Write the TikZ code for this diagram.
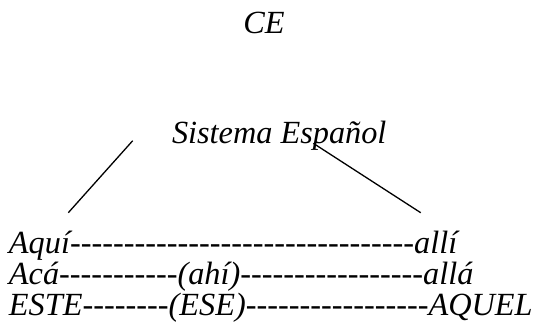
\documentclass[tikz,border=0pt]{standalone}
\usepackage{fontspec}
\newfontfamily\tnr{Liberation Serif}
\begin{document}
\begin{tikzpicture}[x=1pt,y=-1pt,
  txt/.style={inner sep=0pt,outer sep=0pt,font=\tnr\fontsize{32.3}{31}\selectfont\itshape},
  branch/.style={line width=1.3pt,line cap=butt}]
\useasboundingbox (0,0) rectangle (534,330);
\node[txt,anchor=base] (ce) at (264,33) {CE};
\node[txt,anchor=base west] (sis) at (172,143) {Sistema Español};
\node[txt,anchor=base west] (r1) at (9,253) {Aquí--------------------------------allí};
\node[txt,anchor=base west] (r2) at (9,284.5) {Acá-----------(ahí)-----------------allá};
\node[txt,anchor=base west] (r3) at (9,315.5) {ESTE--------(ESE)-----------------AQUEL};
\coordinate (lt) at (132.7,140.7);
\coordinate (lb) at (68.3,212.7);
\coordinate (rt) at (313.3,143.3);
\coordinate (rb) at (420.7,212.7);
\draw[branch] (lt) -- (lb);
\draw[branch] (rt) -- (rb);
\end{tikzpicture}
\end{document}
